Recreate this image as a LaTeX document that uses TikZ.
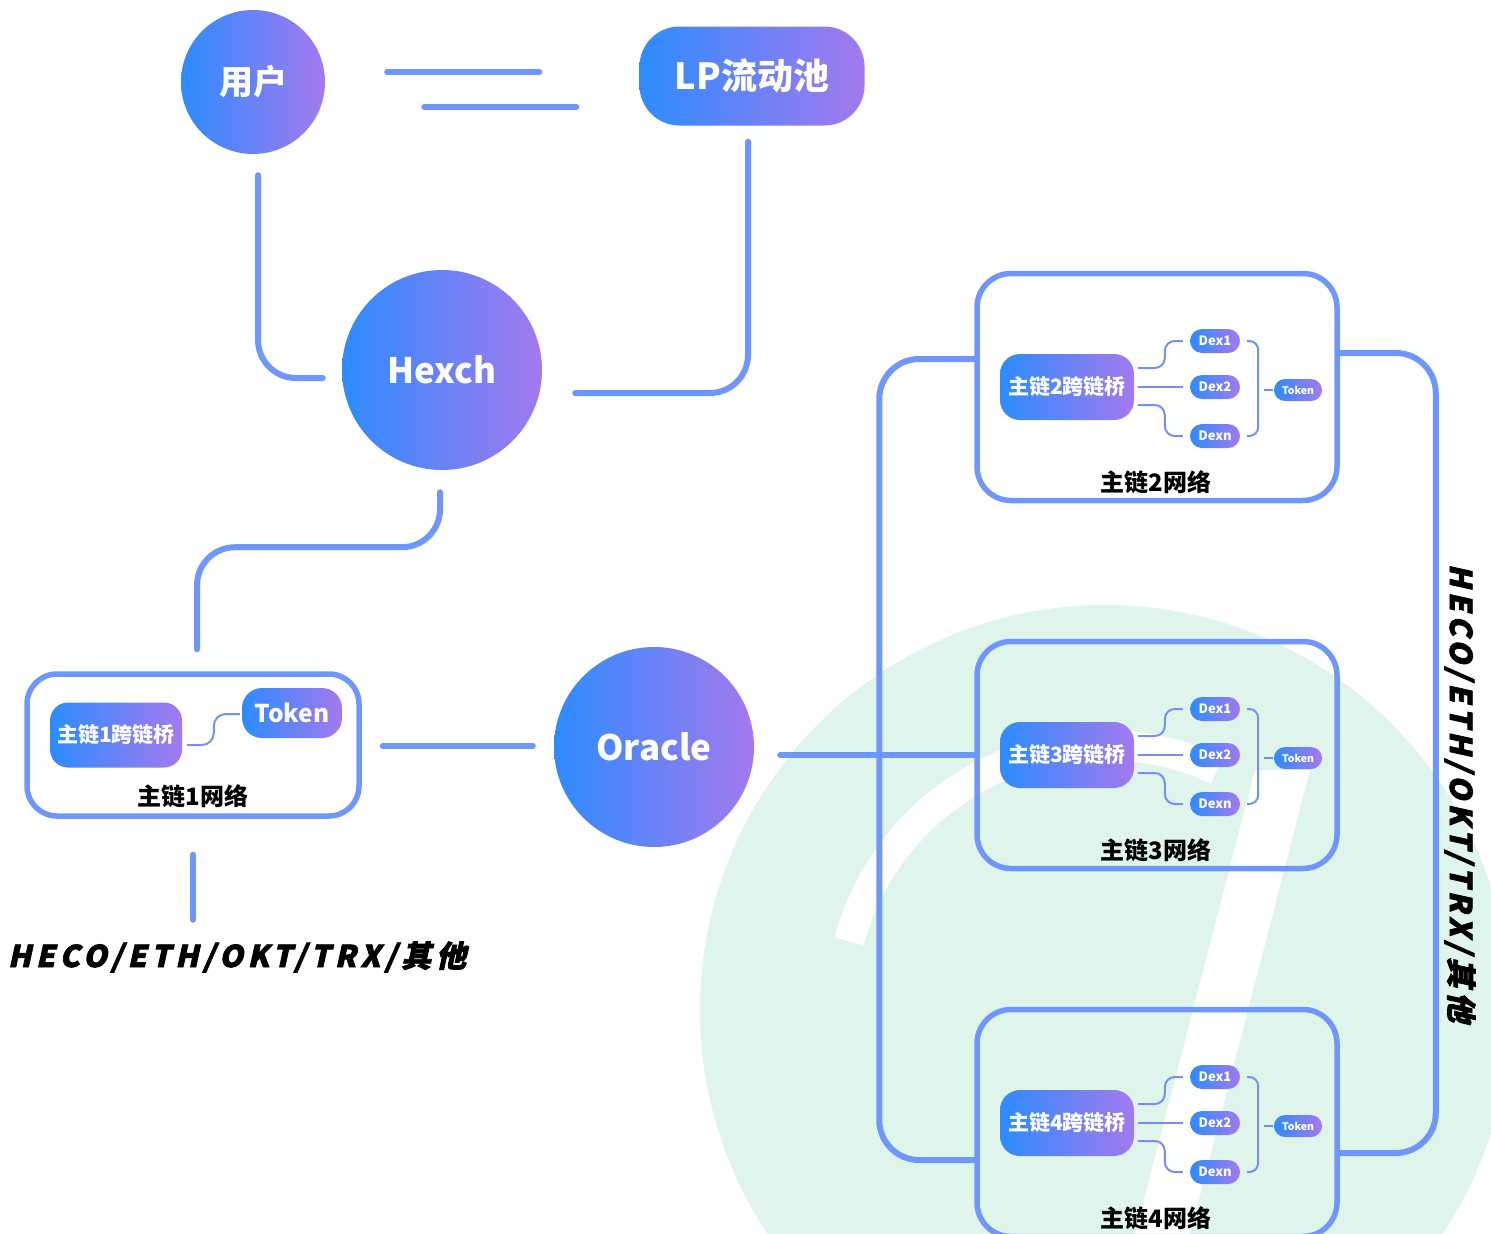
\documentclass[tikz,border=0pt]{standalone}
\usepackage{fontspec}
\setmainfont{Noto Sans CJK SC}
\newfontfamily\chainfont[FakeSlant=0.22,FakeBold=2.5,LetterSpace=16]{Noto Sans CJK SC}
\usetikzlibrary{calc}

\definecolor{gblue}{HTML}{2D8CFF}
\definecolor{gpurple}{HTML}{A479EE}
\definecolor{linkblue}{HTML}{6F96FF}
\definecolor{twigblue}{HTML}{7490F8}
\definecolor{mint}{HTML}{DFF5EC}

\tikzset{
  grad/.style={left color=gblue,right color=gpurple,draw=none,text=white,inner sep=0pt},
  ball/.style={grad,circle,font=\fontsize{35}{35}\selectfont\bfseries},
  pill/.style={grad,rectangle,rounded corners=#1},
  dex/.style={pill=12pt,minimum width=50pt,minimum height=24pt,font=\fontsize{13}{13}\selectfont\bfseries},
  tok/.style={pill=11pt,minimum width=48pt,minimum height=22pt,font=\fontsize{10.5}{10.5}\selectfont\bfseries},
  link/.style={draw=linkblue,line width=6pt,line cap=round,rounded corners=38pt},
  twig/.style={draw=twigblue,line width=2pt,rounded corners=10pt},
  netbox/.style={draw=linkblue,line width=5.5pt,rounded corners=34pt,minimum width=360pt,minimum height=227pt},
  netlbl/.style={font=\fontsize{24}{24}\selectfont\bfseries,text=black},
  chains/.style={font=\chainfont\fontsize{30}{30}\selectfont\bfseries,text=black}
}

\begin{document}
\begin{tikzpicture}[x=1pt,y=-1pt]
  \useasboundingbox (0,0) rectangle (1491,1234);
  % watermark behind the right part
  \fill[mint] (1105,1010) circle (405);
  \draw[white,line width=30pt] ($(1105,1010)+(195:265)$) arc[start angle=195,end angle=295,radius=265];
  \fill[white] (1255,770) -- (1310,770) -- (1190,1234) -- (1135,1234) -- cycle;

  % top: user, pool, exchange
  \node[ball,minimum size=144pt,font=\fontsize{34}{34}\selectfont\bfseries] (user) at (253,82) {用户};
  \node[pill=40pt,minimum width=225pt,minimum height=99pt,font=\fontsize{36}{36}\selectfont\bfseries] (lp) at (752,76) {LP流动池};
  \node[ball,minimum size=200pt] (hexch) at (442,370) {Hexch};
  \node[ball,minimum size=200pt] (oracle) at (654,747) {Oracle};

  \draw[link] ($(user.east)+(62,-10)$) -- ($(lp.west)+(-100,-4)$);
  \draw[link] ($(user.east)+(99,25)$) -- ($(lp.west)+(-63,31)$);
  \draw[link] ($(user.south)+(5,21)$) |- ($(hexch.west)+(-19,8)$);
  \draw[link] ($(lp.south)+(-4,16)$) |- ($(hexch.east)+(33,23)$);

  % chain 1
  \node[netbox,minimum width=332pt,minimum height=142pt,rounded corners=30pt] (net1) at (193,745) {};
  \node[pill=18pt,minimum width=132pt,minimum height=65pt,font=\fontsize{21}{21}\selectfont\bfseries] (bridge1) at (116,735) {主链1跨链桥};
  \node[pill=20pt,minimum width=100pt,minimum height=50pt,font=\fontsize{24.5}{24.5}\selectfont\bfseries] (token1) at (292,713) {Token};
  \node[netlbl] (lbl1) at (193,796) {主链1网络};
  \draw[twig,rounded corners=12pt] ($(bridge1.east)+(5,10)$) -| ($(token1.west)+(-28,1)$) -- ($(token1.west)+(-2,1)$);

  \draw[link] ($(hexch.south)+(-2,22)$) -- ++(0,55) -| ($(net1.north)+(4,-22)$);
  \draw[link] ($(net1.east)+(21,1)$) -- ($(oracle.west)+(-21,-1)$);

  \node[chains] (chainsh) at (237,957) {HECO/ETH/OKT/TRX/其他};
  \draw[link] ($(net1.south)+(0,36)$) -- ++(0,65);

  % chains 2 to 4
  \foreach \n/\cy in {2/387,3/755,4/1123} {
    \node[netbox] (net\n) at (1157,\cy) {};
    \node[pill=20pt,minimum width=134pt,minimum height=66pt,font=\fontsize{21}{21}\selectfont\bfseries] (bridge\n) at (1067,\cy) {主链\n{}跨链桥};
    \node[dex] (dexa\n) at (1215,\cy-46) {Dex1};
    \node[dex] (dexb\n) at (1215,\cy) {Dex2};
    \node[dex] (dexc\n) at (1215,\cy+49) {Dexn};
    \node[tok] (tok\n) at (1298,\cy+3) {Token};
    \node[netlbl] (lbl\n) at (1156,\cy+95) {主链\n{}网络};
    \draw[twig] ($(bridge\n.east)+(4,-19)$) -| ($(dexa\n.west)+(-25,0)$) -- ($(dexa\n.west)+(-7,0)$);
    \draw[twig] ($(bridge\n.east)+(4,0)$) -- ($(dexb\n.west)+(-7,0)$);
    \draw[twig] ($(bridge\n.east)+(4,18)$) -| ($(dexc\n.west)+(-25,0)$) -- ($(dexc\n.west)+(-7,0)$);
    \draw[twig,rounded corners=9pt] ($(dexa\n.east)+(7,0)$) -- ++(11,0) |- ($(dexc\n.east)+(7,0)$);
    \draw[twig] ($(tok\n.west)+(-1,0)$) -- ++(-9,0);
  }

  \draw[link] ($(oracle.east)+(26,8)$) -- (net3.west);
  \draw[link,rounded corners=40pt] ($(net2.west)+(0,-28)$) -- ++(-95,0) |- ($(net4.west)+(0,37)$);
  \draw[link,rounded corners=40pt] ($(net2.east)+(0,-34)$) -- ++(96,0) |- ($(net4.east)+(0,30)$);

  \node[chains,rotate=-90] (chainsv) at (1460,793) {HECO/ETH/OKT/TRX/其他};
\end{tikzpicture}
\end{document}
